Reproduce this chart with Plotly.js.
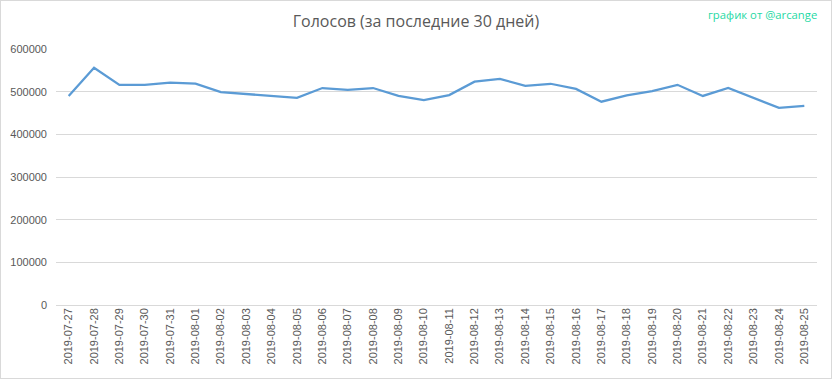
<!DOCTYPE html>
<html>
<head>
<meta charset="utf-8">
<script src="https://cdn.plot.ly/plotly-3.0.1.min.js"></script>
<style>
  html, body { margin: 0; padding: 0; background: #ffffff; }
  #wrap { position: absolute; left: 0; top: 0; width: 830px; height: 377px; border: 1px solid #d9d9d9; background: #fff; }
  #chart { width: 830px; height: 377px; }
</style>
</head>
<body>
<div id="wrap"><div id="chart"></div></div>
<script>
const dates = [
  "2019-07-27","2019-07-28","2019-07-29","2019-07-30","2019-07-31",
  "2019-08-01","2019-08-02","2019-08-03","2019-08-04","2019-08-05",
  "2019-08-06","2019-08-07","2019-08-08","2019-08-09","2019-08-10",
  "2019-08-11","2019-08-12","2019-08-13","2019-08-14","2019-08-15",
  "2019-08-16","2019-08-17","2019-08-18","2019-08-19","2019-08-20",
  "2019-08-21","2019-08-22","2019-08-23","2019-08-24","2019-08-25"
];
const votes = [
  490000, 556000, 516000, 516000, 521000,
  519000, 499000, 494500, 490000, 485500,
  508500, 504000, 508500, 490000, 480500,
  492000, 523500, 530000, 513500, 518500,
  506500, 476500, 491500, 501500, 516000,
  490000, 508500, 484500, 462000, 466500
];
const yTicks = [0, 100000, 200000, 300000, 400000, 500000, 600000];
const titleText = "Голосов (за последние 30 дней)";
const watermark = "график от @arcange";

const trace = {
  x: dates,
  y: votes,
  type: "scatter",
  mode: "lines",
  line: { color: "#5B9BD5", width: 2.25 },
  hoverinfo: "x+y"
};

const layout = {
  width: 830,
  height: 377,
  margin: { l: 55, r: 14, t: 48, b: 73 },
  paper_bgcolor: "#ffffff",
  plot_bgcolor: "#ffffff",
  showlegend: false,
  title: {
    text: titleText,
    font: { family: "Open Sans, sans-serif", size: 16, color: "#595959" },
    x: 0.5, xanchor: "center",
    yref: "container", y: 1 - 20/377, yanchor: "middle"
  },
  xaxis: {
    type: "category",
    range: [-0.5, dates.length - 0.5],
    tickangle: -90,
    tickfont: { family: "Liberation Sans, Arial, sans-serif", size: 11, color: "#595959" },
    showgrid: false,
    showline: false,
    zeroline: false,
    ticks: "",
    ticklen: 0
  },
  yaxis: {
    range: [0, 600000],
    tickvals: yTicks,
    ticktext: yTicks.map(String),
    tickfont: { family: "Liberation Sans, Arial, sans-serif", size: 11, color: "#595959" },
    showgrid: true,
    gridcolor: "#d9d9d9",
    gridwidth: 1,
    zeroline: true,
    zerolinecolor: "#d9d9d9",
    zerolinewidth: 1,
    showline: false,
    ticks: "",
    ticklabelstandoff: 8
  },
  annotations: [{
    text: watermark,
    xref: "paper", yref: "paper",
    x: 1.0026, y: 1.133,
    xanchor: "right", yanchor: "middle",
    showarrow: false,
    font: { family: "Open Sans, sans-serif", size: 11.3, color: "#1ED9A4" }
  }]
};

Plotly.newPlot("chart", [trace], layout, { displayModeBar: false, staticPlot: true });
</script>
</body>
</html>
